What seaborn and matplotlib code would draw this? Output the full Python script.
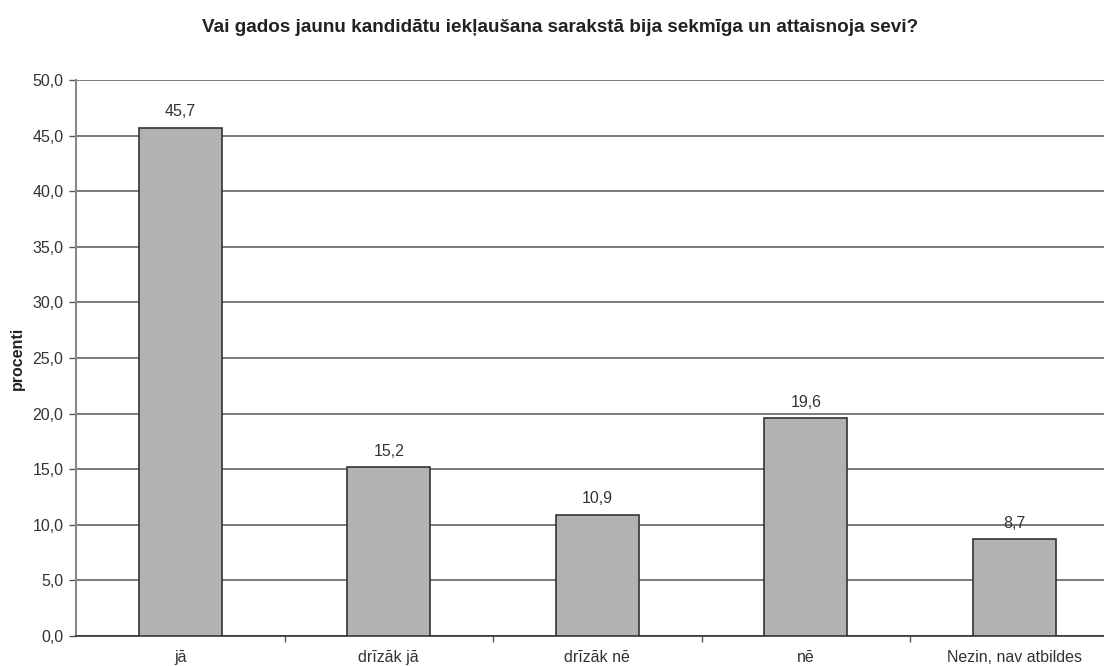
import matplotlib
matplotlib.use("Agg")
import matplotlib.pyplot as plt
import seaborn as sns
import pandas as pd

categories = ["jā", "drīzāk jā", "drīzāk nē", "nē", "Nezin, nav atbildes"]
values = [45.7, 15.2, 10.9, 19.6, 8.7]
title = "Vai gados jaunu kandidātu iekļaušana sarakstā bija sekmīga un attaisnoja sevi?"
ylabel = "procenti"
yticks = [0, 5, 10, 15, 20, 25, 30, 35, 40, 45, 50]

sns.set_theme(style="white")
plt.rcParams['font.family'] = ['Liberation Sans', 'DejaVu Sans']

df = pd.DataFrame({"cat": categories, "val": values})

W, H = 1104, 666
fig = plt.figure(figsize=(W / 100, H / 100), dpi=100)
left, right, bottom, top = 76, 1118.5, 636, 80
ax = fig.add_axes([left / W, (H - bottom) / H, (right - left) / W, (bottom - top) / H])

sns.barplot(data=df, x="cat", y="val", ax=ax, width=0.4, color="#b2b2b2",
            edgecolor="#333333", linewidth=1.2, saturation=1, zorder=3)

fs = 11.5
ax.set_xlim(-0.5, len(categories) - 0.5)
ax.set_ylim(0, 50)
ax.set_yticks(yticks)
ax.set_yticklabels([f"{v:.1f}".replace(".", ",") for v in yticks], fontsize=fs, color="#333333")
ax.yaxis.grid(True, color="#555555", linewidth=1.1, zorder=0)
ax.set_axisbelow(True)

ax.set_xticks(range(len(categories)))
ax.set_xticklabels(categories, fontsize=fs, color="#333333")
ax.tick_params(axis="x", which="major", length=0, pad=10)
ax.set_xticks([i + 0.5 for i in range(len(categories) - 1)], minor=True)
ax.tick_params(axis="x", which="minor", length=4, width=1, color="#555555", direction="out", bottom=True)
ax.tick_params(axis="y", length=5, width=1, color="#555555", direction="out", left=True, pad=4)

ax.set_xlabel("")
ax.set_ylabel(ylabel, fontsize=fs, fontweight="bold", color="#222222", labelpad=5)

for s in ["top", "right"]:
    ax.spines[s].set_visible(False)
ax.spines["left"].set_color("#888888")
ax.spines["left"].set_linewidth(1.5)
ax.spines["bottom"].set_color("#333333")
ax.spines["bottom"].set_linewidth(1.2)

for i, v in enumerate(values):
    ax.annotate(f"{v:.1f}".replace(".", ","), (i, v), xytext=(0, 6), textcoords="offset points",
                ha="center", va="bottom", fontsize=fs, color="#333333")

fig.text(560 / W, 1 - 27 / H, title, ha="center", va="center", fontsize=13.6, fontweight="bold", color="#222222")

fig.savefig("out.png", dpi=100)
